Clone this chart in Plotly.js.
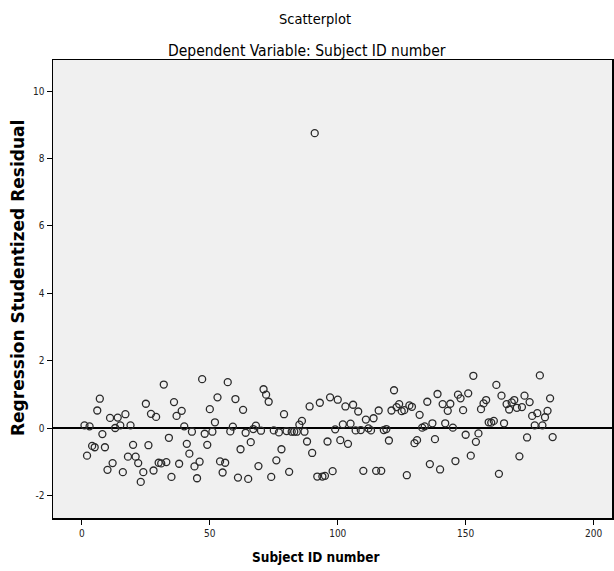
<!DOCTYPE html>
<html>
<head>
<meta charset="utf-8">
<script src="https://cdn.plot.ly/plotly-3.0.1.min.js"></script>
<style>html,body{margin:0;padding:0;background:#fff;}#chart{width:614px;height:571px;}</style>
</head>
<body>
<div id="chart"></div>
<script>
// Subject ID numbers
const subjectIds = [];
for (let i = 1; i <= 184; i++) subjectIds.push(i);
// Regression studentized residuals, one per subject
const residuals = [
  0.08, -0.82, 0.05, -0.53, -0.57, 0.52, 0.87, -0.18, -0.57, -1.24,
  0.30, -1.04, 0.00, 0.31, 0.08, -1.31, 0.41, -0.85, 0.08, -0.50,
  -0.85, -1.04, -1.60, -1.31, 0.72, -0.51, 0.42, -1.26, 0.33, -1.03,
  -1.05, 1.29, -1.01, -0.29, -1.45, 0.77, 0.36, -1.06, 0.51, 0.05,
  -0.47, -0.76, -0.11, -1.14, -1.49, -1.00, 1.45, -0.17, -0.50, 0.56,
  -0.11, 0.17, 0.91, -0.99, -1.32, -1.03, 1.36, -0.10, 0.04, 0.86,
  -1.47, -0.63, 0.54, -0.14, -1.51, -0.42, -0.03, 0.07, -1.13, -0.08,
  1.15, 0.99, 0.78, -1.45, -0.07, -0.96, -0.13, -0.63, 0.41, -0.09,
  -1.30, -0.11, -0.11, -0.11, 0.10, 0.21, -0.11, -0.40, 0.64, -0.74,
  8.75, -1.44, 0.75, -1.44, -1.42, -0.40, 0.91, -1.28, -0.04, 0.84,
  -0.36, 0.11, 0.64, -0.47, 0.13, 0.69, -0.07, 0.49, -0.06, -1.27,
  0.25, -0.01, -0.07, 0.29, -1.27, 0.52, -1.27, -0.06, -0.03, -0.37,
  0.52, 1.12, 0.62, 0.71, 0.50, 0.53, -1.40, 0.67, 0.63, -0.45,
  -0.36, 0.39, 0.01, 0.05, 0.78, -1.07, 0.14, -0.33, 1.01, -1.23,
  0.71, 0.14, 0.51, 0.72, 0.01, -0.98, 0.99, 0.88, 0.53, -0.20,
  1.03, -0.82, 1.55, -0.41, -0.16, 0.56, 0.73, 0.83, 0.17, 0.16,
  0.21, 1.28, -1.36, 0.96, 0.14, 0.71, 0.55, 0.76, 0.83, 0.60,
  -0.84, 0.62, 0.96, -0.28, 0.77, 0.36, 0.08, 0.44, 1.56, 0.08,
  0.32, 0.51, 0.88, -0.27
];
const xTicks = [0, 50, 100, 150, 200];
const yTicks = [-2, 0, 2, 4, 6, 8, 10];

const narrow = '"DejaVu Sans Condensed", "Liberation Sans Narrow", "Liberation Sans", sans-serif';
const wide = '"DejaVu Sans", Verdana, sans-serif';

const trace = {
  type: 'scatter', mode: 'markers',
  x: subjectIds, y: residuals,
  marker: {symbol: 'circle-open', size: 7, color: '#2a2a2a', line: {width: 1.3, color: '#2a2a2a'}},
  hoverinfo: 'x+y'
};

const layout = {
  width: 614, height: 571,
  margin: {l: 53, r: 2, t: 60, b: 53},
  paper_bgcolor: '#ffffff', plot_bgcolor: '#f0f0f0',
  showlegend: false,
  xaxis: {
    range: [-11.3, 207.2], tickvals: xTicks, ticktext: xTicks.map(String),
    ticks: 'outside', ticklen: 5, tickwidth: 1, tickcolor: '#000',
    showline: true, linecolor: '#000', linewidth: 1.5, mirror: true,
    showgrid: false, zeroline: false,
    tickfont: {family: narrow, size: 10, color: '#222'}
  },
  yaxis: {
    range: [-2.67, 10.92], tickvals: yTicks, ticktext: yTicks.map(String),
    ticks: 'outside', ticklen: 5, tickwidth: 1, tickcolor: '#000',
    showline: true, linecolor: '#000', linewidth: 1.5, mirror: true,
    showgrid: false, zeroline: true, zerolinecolor: '#000', zerolinewidth: 1.3,
    tickfont: {family: narrow, size: 10, color: '#222'}
  },
  annotations: [
    {text: 'Scatterplot', xref: 'paper', yref: 'paper', x: 0.469, y: 1, yshift: 41, xanchor: 'center', yanchor: 'middle', showarrow: false,
     font: {family: narrow, size: 14.5, color: '#000'}},
    {text: 'Dependent Variable: Subject ID number', xref: 'paper', yref: 'paper', x: 0.455, y: 1, yshift: 9, xanchor: 'center', yanchor: 'middle', showarrow: false,
     font: {family: narrow, size: 15.5, color: '#000'}},
    {text: '<b>Subject ID number</b>', xref: 'paper', yref: 'paper', x: 0.469, y: 0, yshift: -39, xanchor: 'center', yanchor: 'middle', showarrow: false,
     font: {family: narrow, size: 13.5, color: '#000'}},
    {text: '<b>Regression Studentized Residual</b>', xref: 'paper', yref: 'paper', x: 0, xshift: -35, y: 0.524, textangle: -90, xanchor: 'center', yanchor: 'middle', showarrow: false,
     font: {family: wide, size: 17, color: '#000'}}
  ]
};

Plotly.newPlot('chart', [trace], layout, {staticPlot: true, displayModeBar: false});
</script>
</body>
</html>
